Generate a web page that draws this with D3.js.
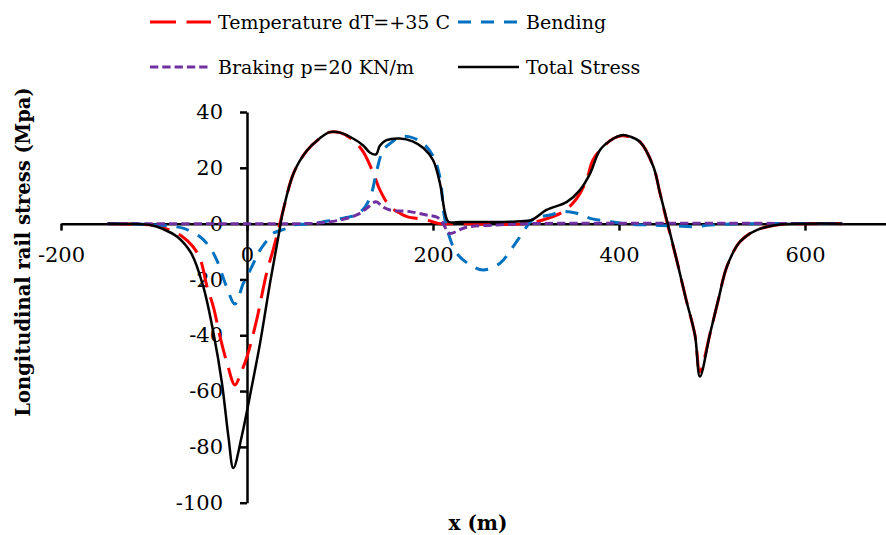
<!DOCTYPE html>
<html>
<head>
<meta charset="utf-8">
<script src="https://cdn.jsdelivr.net/npm/d3@7/dist/d3.min.js"></script>
<style>
  html, body { margin: 0; padding: 0; background: #fff; }
  svg { display: block; }
  text { font-family: "DejaVu Serif", "Liberation Serif", serif; fill: #000; }
</style>
</head>
<body>
<svg id="chart" width="886" height="535"></svg>
<script>
// ---- Data ----
const xTicks = [-200, 0, 200, 400, 600];
const yTicks = [-100, -80, -60, -40, -20, 0, 20, 40];

const seriesNames = ["Temperature dT=+35 C", "Bending", "Braking p=20 KN/m", "Total Stress"];

const temperature = [
  [-150,0],[-120,-0.2],[-100,-0.6],[-83,-2.3],[-70,-4.5],[-58,-8.3],[-50,-13],[-43,-22.6],
  [-36,-30],[-29,-40.5],[-21,-50.5],[-13,-57.8],[-6,-53],[0,-47.7],[10.4,-34.5],[21,-17.8],
  [28,-9.5],[33.7,-2.3],[39,4.9],[50,18],[64,26],[78,30.5],[89,32.8],[100,32.6],[114,30],
  [125,25.7],[136,18],[143,12],[154,6],[164.5,3.7],[172,2.5],[193,1.3],[207,0],[220,0],
  [300,0],[318,1.3],[340,4.3],[354.5,9],[365,15.6],[372,22.8],[383,27.5],[394,30.5],[403,31.5],
  [412,31],[422.6,29.3],[437,20.4],[444,11],[452,0],[462,-13],[472,-27],[481.7,-40],[487,-53],
  [498,-39.3],[507,-27],[516,-15.4],[530,-6.5],[548,-2.3],[573,-0.3],[600,0],[640,0]
];

const bending = [
  [-150,0],[-120,-0.1],[-97,-0.5],[-80,-1],[-68,-1.7],[-50.5,-4.7],[-40,-8.5],[-32.6,-13],
  [-22,-22.6],[-13,-28.8],[-4,-21.4],[0,-19],[10.4,-11.8],[14,-9.5],[24.7,-4.7],[28,-3.5],
  [42.7,-1.7],[50,-0.5],[64,-0.1],[80,0.5],[92.5,1.3],[111,2.5],[118,3.2],[127,6],[134,11],
  [139.5,19],[146.6,26.4],[157,29.5],[164.5,31.1],[175,31.1],[189.6,28.7],[200.4,24],
  [207.5,16.5],[212,3],[216.5,-3.5],[225.5,-10.6],[240,-14.8],[254,-16.6],[272,-14.2],
  [286,-8.3],[293.5,-4.7],[300.7,-1.1],[306.5,1.3],[315,2.5],[326,3.1],[340,4.3],[354.5,3.7],
  [369,1.9],[390,0.7],[408,-0.1],[430,-0.5],[460,-0.8],[480,-1.1],[498,-0.5],[540,0],[640,0]
];

const braking = [
  [-150,0],[0,0],[60,0],[80,0.3],[100,1.3],[118,3.1],[128.7,5.5],[138.7,7.8],[146,6],
  [153.8,4.9],[175,4.3],[193,3.1],[203,2.5],[209,1],[214.7,-2.3],[218,-3.5],[236,-1.3],
  [268.5,-0.5],[304,0],[640,0]
];

const total = [
  [-150,0],[-125,-0.1],[-104,-0.5],[-90,-2],[-75,-4.7],[-60,-10.6],[-47,-22.6],[-36,-39.3],
  [-27,-57],[-20,-76.3],[-14.7,-87.6],[-5.7,-76.3],[3,-62],[14,-42.9],[24.7,-21.4],[33.7,-4.7],
  [39,4.9],[50,18],[64,26],[78,30.5],[89,32.8],[100,32.6],[114,30.5],[125,28],[132,25.5],
  [138.7,24.8],[143,28],[150,29.9],[164.5,30.5],[178,29.5],[190,27],[200,22.8],[207.5,14.4],
  [213,3.7],[216.5,0.7],[230,0.6],[260,0.6],[290,0.8],[306,1.3],[322,4.9],[344,7.8],[358,12],
  [369,18],[379.6,26.4],[394,30.5],[403,31.7],[412,31.2],[422.6,29.3],[437,20.4],[444,11],
  [452,0.5],[462,-13],[472,-27],[481.7,-40],[487,-54.8],[498,-39.3],[507,-27],[516,-15.4],
  [530,-6.5],[548,-2.3],[573,-0.3],[600,0],[640,0]
];

// ---- Layout ----
const svg = d3.select("#chart");
const x = d3.scaleLinear().domain([-200, 700]).range([61, 898]);
const y = d3.scaleLinear().domain([-100, 40]).range([502.7, 112]);

const series = [
  { name: seriesNames[0], data: temperature, color: "#FF0000", width: 3,   dash: "26,10.5" },
  { name: seriesNames[1], data: bending,     color: "#0070C0", width: 3,   dash: "13,10" },
  { name: seriesNames[2], data: braking,     color: "#7030A0", width: 3,   dash: "8.3,4" },
  { name: seriesNames[3], data: total,       color: "#000000", width: 2.5, dash: null }
];

// Axes
const axisW = 2.5;
const xAxis = d3.axisBottom(x).tickValues(xTicks).tickSizeInner(7).tickSizeOuter(0).tickPadding(16);
const yAxis = d3.axisLeft(y).tickValues(yTicks).tickSizeInner(7).tickSizeOuter(0).tickPadding(17);

const gx = svg.append("g").attr("transform", `translate(0,${y(0)})`).call(xAxis);
const gy = svg.append("g").attr("transform", `translate(${x(0)},0)`).call(yAxis);
[gx, gy].forEach(g => {
  g.select(".domain").attr("stroke", "#000").attr("stroke-width", axisW);
  g.selectAll(".tick line").attr("stroke", "#000").attr("stroke-width", axisW);
  g.selectAll(".tick text").attr("font-family", "DejaVu Serif").attr("font-size", 21).attr("fill", "#000")
    .text(d => String(d));
});

// Lines
const line = d3.line().x(d => x(d[0])).y(d => y(d[1])).curve(d3.curveCatmullRom.alpha(0.5));
series.forEach(s => {
  svg.append("path")
    .datum(s.data)
    .attr("d", line)
    .attr("fill", "none")
    .attr("stroke", s.color)
    .attr("stroke-width", s.width)
    .attr("stroke-dasharray", s.dash)
    .attr("stroke-linejoin", "round");
});

// Legend
const legendPos = [
  { lx: 150, ty: 22 }, { lx: 458, ty: 22 },
  { lx: 150, ty: 67 }, { lx: 458, ty: 67 }
];
series.forEach((s, i) => {
  const p = legendPos[i];
  svg.append("line")
    .attr("x1", p.lx).attr("x2", p.lx + 61)
    .attr("y1", p.ty).attr("y2", p.ty)
    .attr("stroke", s.color).attr("stroke-width", s.width)
    .attr("stroke-dasharray", s.dash);
  svg.append("text")
    .attr("x", p.lx + 68).attr("y", p.ty)
    .attr("dy", "0.36em")
    .attr("font-size", 19)
    .text(s.name);
});

// Axis titles
svg.append("text")
  .attr("transform", `translate(23,252) rotate(-90)`)
  .attr("text-anchor", "middle")
  .attr("dy", "0.35em")
  .attr("font-size", 19.5)
  .attr("font-weight", "bold")
  .text("Longitudinal rail stress (Mpa)");

svg.append("text")
  .attr("x", 478).attr("y", 523)
  .attr("text-anchor", "middle")
  .attr("dy", "0.35em")
  .attr("font-size", 20)
  .attr("font-weight", "bold")
  .text("x (m)");
</script>
</body>
</html>
